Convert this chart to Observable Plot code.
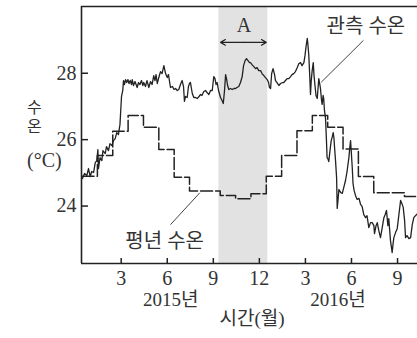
<!DOCTYPE html>
<html><head><meta charset="utf-8">
<script src="https://cdn.jsdelivr.net/npm/d3@7"></script>
<script src="https://cdn.jsdelivr.net/npm/@observablehq/plot@0.6"></script>
<style>body{margin:0;background:#fff}#chart svg{display:block}</style>
</head><body><div id="chart"></div>
<script>
// Observed sea temperature (관측 수온): month index (1 = Jan 2015) and °C
const obsMonth = [0.48,0.61,0.76,0.87,0.98,1.08,1.20,1.31,1.41,1.48,1.52,1.62,1.74,1.81,1.96,2.04,2.17,2.27,2.39,2.50,2.61,2.71,2.82,2.92,2.97,3.02,3.10,3.15,3.21,3.28,3.36,3.44,3.51,3.59,3.67,3.72,3.80,3.90,4.04,4.13,4.22,4.32,4.41,4.47,4.58,4.68,4.80,4.91,5.01,5.12,5.20,5.27,5.35,5.43,5.56,5.66,5.78,5.89,6.00,6.08,6.21,6.34,6.44,6.54,6.65,6.75,6.86,6.97,7.06,7.12,7.19,7.30,7.38,7.45,7.51,7.63,7.73,7.84,7.95,8.07,8.17,8.26,8.38,8.49,8.59,8.71,8.82,8.93,9.03,9.11,9.18,9.25,9.34,9.47,9.57,9.65,9.73,9.80,9.86,9.93,10.01,10.12,10.23,10.34,10.45,10.54,10.66,10.77,10.88,10.97,11.07,11.16,11.26,11.36,11.42,11.52,11.64,11.75,11.85,11.96,12.08,12.17,12.29,12.40,12.51,12.60,12.66,12.73,12.80,12.89,12.99,13.05,13.15,13.27,13.38,13.51,13.59,13.70,13.81,13.92,14.03,14.13,14.24,14.35,14.47,14.57,14.68,14.78,14.90,14.97,15.05,15.12,15.17,15.22,15.28,15.33,15.38,15.44,15.51,15.56,15.63,15.69,15.77,15.82,15.87,15.94,15.98,16.05,16.09,16.15,16.19,16.24,16.31,16.37,16.41,16.46,16.52,16.60,16.68,16.75,16.81,16.86,16.89,16.96,17.03,17.07,17.12,17.18,17.29,17.40,17.50,17.61,17.72,17.83,17.89,17.94,17.99,18.05,18.10,18.17,18.26,18.37,18.49,18.59,18.69,18.80,18.92,19.01,19.13,19.24,19.35,19.46,19.50,19.60,19.68,19.78,19.89,19.99,20.11,20.19,20.28,20.37,20.43,20.54,20.65,20.71,20.76,20.87,20.98,21.08,21.20,21.28,21.37,21.46,21.52,21.62,21.74,21.85,21.96,22.06,22.17,22.30];
const obsTemp = [24.83,24.98,24.92,25.13,24.89,25.04,25.01,25.31,25.37,25.70,25.13,25.46,25.37,25.67,25.58,25.79,25.67,25.88,25.82,25.97,26.03,26.21,26.15,26.46,26.88,27.30,27.48,27.78,27.66,27.81,27.72,27.81,27.69,27.78,27.66,27.81,27.63,27.75,27.57,27.72,27.66,27.78,27.63,27.72,27.60,27.78,27.57,27.75,27.66,27.93,27.78,27.96,27.69,27.84,28.05,27.99,28.23,27.99,27.87,27.96,27.57,27.60,27.51,27.54,27.48,27.51,27.66,27.78,27.60,27.15,27.30,27.27,27.60,27.69,27.72,27.39,27.27,27.27,27.24,27.30,27.36,27.33,27.45,27.48,27.42,27.36,27.48,27.48,27.90,27.84,27.66,27.72,27.48,27.27,27.18,27.09,27.48,27.96,27.84,27.63,27.51,27.54,27.51,27.54,27.54,27.57,27.60,27.72,27.90,28.23,28.38,28.44,28.38,28.32,28.32,28.26,28.20,28.14,28.17,28.08,28.08,27.99,27.93,27.87,27.81,27.72,27.57,27.54,27.99,28.14,27.96,27.78,27.72,27.63,27.69,27.72,27.72,27.78,27.84,27.84,27.90,27.96,27.99,28.05,28.17,28.29,28.32,28.23,28.32,28.53,28.83,29.05,28.83,28.53,27.93,27.36,27.78,28.08,28.32,27.93,27.60,27.33,27.24,27.54,27.84,27.66,27.54,27.18,27.06,27.33,27.24,26.88,26.64,25.97,25.46,25.43,25.34,25.67,25.97,26.09,26.21,26.03,25.82,25.37,24.86,23.93,24.17,24.50,24.41,24.38,24.56,24.77,25.07,25.46,25.76,25.97,25.61,25.16,24.68,24.47,24.32,24.20,24.23,24.05,23.99,23.74,23.65,23.71,23.35,23.50,23.50,23.41,23.17,23.41,23.50,23.26,23.05,23.32,23.65,23.74,23.87,23.41,23.62,22.96,22.60,22.87,23.05,23.20,23.32,23.71,24.17,24.08,23.96,23.56,23.05,23.11,23.02,23.05,23.44,23.65,23.71,23.77];

// Normal (평년) monthly temperature: step start (month index) and °C
const normStart = [0.45,1.45,2.45,3.45,4.45,5.45,6.45,7.45,8.45,9.45,10.45,11.45,12.45,13.45,14.45,15.45,16.45,17.45,18.45,19.45,20.45,21.45];
const normTemp  = [24.90,25.52,26.25,26.73,26.37,25.70,24.87,24.45,24.45,24.32,24.22,24.37,24.90,25.52,26.27,26.73,26.37,25.72,24.89,24.40,24.40,24.29];

const xTicks = [3, 6, 9, 12, 15, 18, 21];
const xTickLabels = ["3", "6", "9", "12", "3", "6", "9"];
const yTicks = [24, 26, 28];
const yearLabels = ["2015년", "2016년"];
const yearLabelMonth = [6.22, 17.12];
const periodA = [9.36, 12.55];

const xDomain = [0.414, 22.30];
const yDomain = [22.27, 30.01];

const obs = obsMonth.map((t, i) => ({t, v: obsTemp[i]}));
const norm = normStart.map((t, i) => ({t, v: normTemp[i]}));
norm.push({t: normStart[normStart.length - 1] + 1, v: normTemp[normTemp.length - 1]});

const FONT = "'Liberation Serif', 'Noto Sans CJK KR', serif";
const INK = "#222";
const TXT = "#333";

const chart = Plot.plot({
  width: 417,
  height: 338,
  marginLeft: 81,
  marginRight: 0,
  marginTop: 6,
  marginBottom: 75,
  style: {fontFamily: FONT, background: "#fff", overflow: "visible"},
  x: {domain: xDomain, label: null},
  y: {domain: yDomain, label: null},
  marks: [
    Plot.rect([periodA], {x1: d => d[0], x2: d => d[1], fill: "#e2e2e2"}),
    Plot.line(norm, {x: "t", y: "v", curve: "step-after", stroke: INK, strokeWidth: 1.5, strokeDasharray: "12,3", clip: true}),
    Plot.line(obs, {x: "t", y: "v", stroke: INK, strokeWidth: 1.3, clip: true}),
    Plot.ruleX([xDomain[0]], {stroke: INK, strokeWidth: 1.6}),
    Plot.ruleY([yDomain[0], yDomain[1]], {stroke: INK, strokeWidth: 1.6}),
    Plot.axisY(yTicks, {label: null, tickSize: 7, insetLeft: 7, tickPadding: 5, stroke: INK, strokeWidth: 1.5,
      fontSize: 20, fontFamily: FONT, fill: TXT}),
    Plot.axisX(xTicks, {label: null, tickSize: 5, insetBottom: 5, tickPadding: 7, stroke: INK, strokeWidth: 1.5,
      fontSize: 20, fontFamily: FONT, fill: TXT,
      tickFormat: d => xTickLabels[xTicks.indexOf(d)]}),
    // period A arrow
    Plot.arrow([9.47, 12.45], {x1: (periodA[0] + periodA[1]) / 2, x2: d => d, y1: 28.93, y2: 28.93,
      stroke: INK, strokeWidth: 1.2, headLength: 7}),
    Plot.text(["A"], {x: 10.99, y: 29.42, fontSize: 20, fontFamily: FONT, fill: TXT}),
    // series labels with leaders
    Plot.link([0], {x1: 18.78, y1: 28.99, x2: 16.03, y2: 27.73, stroke: "#444", strokeWidth: 1}),
    Plot.text(["관측 수온"], {x: 18.94, y: 29.41, fontSize: 20, fontFamily: FONT, fill: TXT}),
    Plot.link([0], {x1: 6.21, y1: 23.44, x2: 8.12, y2: 24.40, stroke: "#444", strokeWidth: 1}),
    Plot.text(["평년 수온"], {x: 5.83, y: 22.92, fontSize: 20, fontFamily: FONT, fill: TXT}),
    // y-axis title (stacked)
    Plot.text(["수\n온"], {y: 26.69, frameAnchor: "left", dx: -54.5,
      fontSize: 16, lineHeight: 1.2, fontFamily: FONT, fill: TXT}),
    Plot.text(["(°C)"], {y: 25.37, frameAnchor: "left", dx: -54.5, fontSize: 20, fontFamily: FONT, fill: TXT}),
    // year labels and x-axis title
    Plot.text(yearLabels, {x: yearLabelMonth, text: d => d, frameAnchor: "bottom", dy: 42, fontSize: 19, fontFamily: FONT, fill: TXT}),
    Plot.text(["시간(월)"], {x: 11.52, frameAnchor: "bottom", dy: 61, fontSize: 19, fontFamily: FONT, fill: TXT})
  ]
});
document.getElementById("chart").append(chart);
</script>
</body></html>
